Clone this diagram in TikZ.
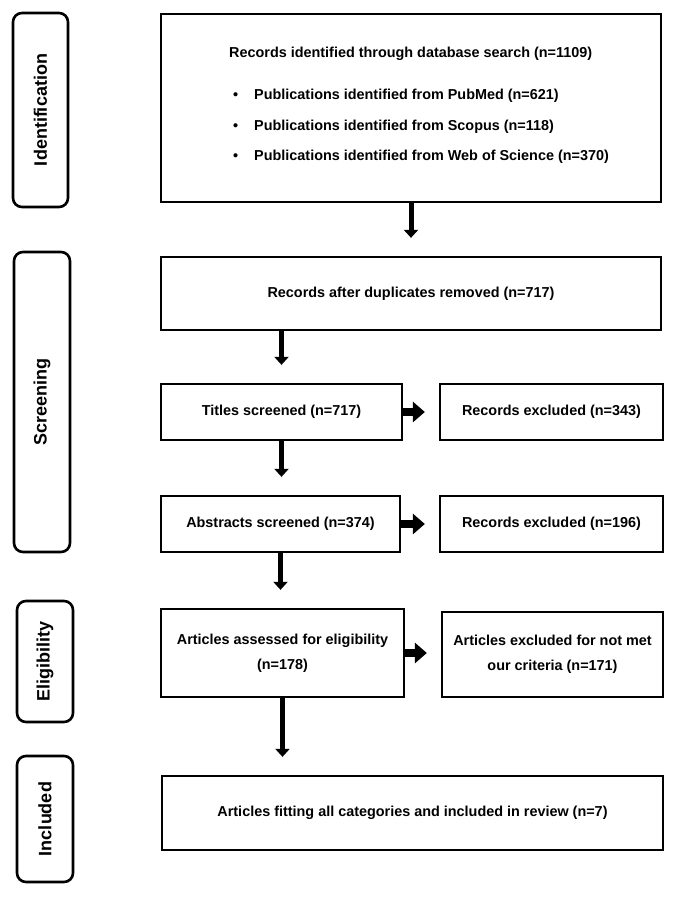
\documentclass[tikz,border=0pt]{standalone}
\usepackage{fontspec}
\setmainfont{Liberation Sans}
\usetikzlibrary{arrows.meta}

\tikzset{
    stage/.style={draw, line width=2.6pt, rounded corners=9pt, rotate=90, inner sep=0pt,
        font=\fontsize{18}{21}\selectfont\bfseries},
    block/.style={draw, line width=2.3pt, align=center, inner sep=0pt,
        font=\fontsize{14.4}{17}\selectfont\bfseries},
    down/.style={line width=5pt, -{Triangle[width=14pt,length=8pt]}, shorten >=18pt},
    aside/.style={line width=8pt, -{Triangle[width=20pt,length=12pt]}, shorten >=14pt}
}

\begin{document}
\begin{tikzpicture}[x=1pt, y=-1pt]
            \useasboundingbox (0,0) rectangle (676,897);

            % faze
            \node[stage, minimum width=194, minimum height=55] (ident) at (40.5,110) {Identification};
            \node[stage, minimum width=300, minimum height=56] (screen) at (42,402) {Screening};
            \node[stage, minimum width=121, minimum height=56] (elig) at (45,661.5) {Eligibility};
            \node[stage, minimum width=126, minimum height=56] (incl) at (45,819) {Included};

            % vyhladavanie
            \node[block, minimum width=500, minimum height=188] (search) at (411,108) {};
            \node[align=left, anchor=west, inner sep=0pt, font=\fontsize{14.4}{17}\selectfont\bfseries]
                (searchtext) at (229,105) {Records identified through database search (n=1109)\\[25pt]
                \hspace*{4pt}\textbullet\hspace*{16pt}Publications identified from PubMed (n=621)\\[14pt]
                \hspace*{4pt}\textbullet\hspace*{16pt}Publications identified from Scopus (n=118)\\[13pt]
                \hspace*{4pt}\textbullet\hspace*{16pt}Publications identified from Web of Science (n=370)};

            % skrining
            \node[block, minimum width=500, minimum height=73] (dedup) at (411,293.5) {Records after duplicates removed (n=717)};
            \node[block, minimum width=241, minimum height=56] (titles) at (281.5,412) {Titles screened (n=717)};
            \node[block, minimum width=223, minimum height=56] (exclA) at (551.5,412) {Records excluded (n=343)};
            \node[block, minimum width=239, minimum height=56] (abstr) at (280.5,524) {Abstracts screened (n=374)};
            \node[block, minimum width=223, minimum height=56] (exclB) at (551.5,524) {Records excluded (n=196)};

            % vhodnost a zaradenie
            \node[block, minimum width=243, minimum height=88] (assess) at (282.5,653) {Articles assessed for eligibility\\[8pt](n=178)};
            \node[block, minimum width=221, minimum height=85] (exclC) at (552.5,654.5) {Articles excluded for not met\\[8pt]our criteria (n=171)};
            \node[block, minimum width=501, minimum height=74] (final) at (412.5,813) {Articles fitting all categories and included in review (n=7)};

            % sipky
            \draw[down] (search.south) -- (dedup.north);
            \draw[down] (dedup.south -| titles.north) -- (titles.north);
            \draw[down] (titles.south) -- (titles.south |- abstr.north);
            \draw[down] (abstr.south) -- (abstr.south |- assess.north);
            \draw[down] (assess.south) -- (assess.south |- final.north);
            \draw[aside] (titles.east) -- (exclA.west);
            \draw[aside] (abstr.east) -- (exclB.west);
            \draw[aside] (assess.east) -- (assess.east -| exclC.west);

        \end{tikzpicture}
\end{document}
